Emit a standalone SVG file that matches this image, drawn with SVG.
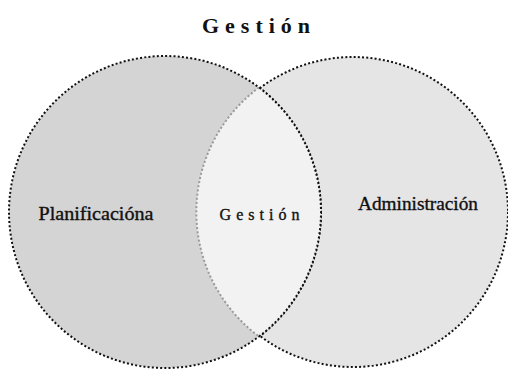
<svg xmlns="http://www.w3.org/2000/svg" width="508" height="370" viewBox="0 0 508 370">
<style>
.dot{fill:none;stroke:#111;stroke-width:2;stroke-dasharray:2 2.2}
.dotg{fill:none;stroke:#9a9a9a;stroke-width:2;stroke-dasharray:2 2.2}
.t{font-family:"Liberation Serif",serif;fill:#111;text-anchor:middle;stroke:#111;stroke-width:0.35}
</style>
<rect width="508" height="370" fill="#fff"/>
<g id="administracion">
<circle cx="353" cy="212" r="155" style="fill:#e5e5e6;stroke:#111;stroke-width:2;stroke-dasharray:2 2.2"/>
</g>
<g id="planificacion">
<circle cx="165" cy="212" r="156" style="fill:#d4d4d4;stroke:#111;stroke-width:2;stroke-dasharray:2 2.2"/>
</g>
<g id="interseccion">
<path d="M259 87.5 A155 155 0 0 0 259 336.5 A156 156 0 0 0 259 87.5 Z" fill="#f2f2f2"/>
<path d="M259 87.5 A155 155 0 0 0 259 336.5" class="dotg"/>
<path d="M259 336.5 A156 156 0 0 0 259 87.5" class="dot"/>
</g>
<g id="connectors"></g>
<text class="t" x="259" y="33" font-size="22" font-weight="bold" letter-spacing="6" style="stroke-width:0">Gestión</text>
<text class="t" x="96" y="220" font-size="18" textLength="115" lengthAdjust="spacingAndGlyphs">Planificacióna</text>
<text class="t" x="262" y="220" font-size="16" letter-spacing="5">Gestión</text>
<text class="t" x="418" y="210" font-size="18" textLength="120" lengthAdjust="spacingAndGlyphs">Administración</text>
</svg>
